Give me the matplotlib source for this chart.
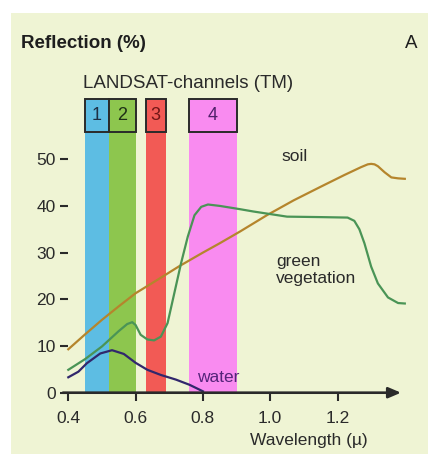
import matplotlib
matplotlib.use("Agg")
import matplotlib.pyplot as plt
from matplotlib.patches import Rectangle

plt.rcParams["font.family"] = ["Liberation Sans", "DejaVu Sans"]

# Landsat TM channels (µm)
channel_names = ["1", "2", "3", "4"]
channel_lo = [0.45, 0.52, 0.63, 0.76]
channel_hi = [0.52, 0.60, 0.69, 0.90]
channel_colors = ["#5DBDE3", "#8DC64E", "#F25A55", "#F98BF0"]
channel_text = ["#1E3044", "#1E3016", "#701616", "#50206A"]

# spectral reflectance curves
soil_x = [0.40, 0.45, 0.50, 0.55, 0.60, 0.67, 0.73, 0.80, 0.85, 0.91, 0.99, 1.07, 1.15, 1.22, 1.27, 1.29, 1.30, 1.31, 1.32, 1.34, 1.36, 1.38, 1.40]
soil_y = [9.3, 12.5, 15.6, 18.5, 21.3, 24.4, 27.1, 30.0, 32.0, 34.5, 38.0, 41.2, 44.1, 46.6, 48.3, 48.9, 49.0, 48.9, 48.5, 47.2, 46.1, 45.9, 45.8]

veg_x = [0.40, 0.45, 0.50, 0.55, 0.575, 0.59, 0.60, 0.615, 0.635, 0.655, 0.675, 0.695, 0.715, 0.735, 0.755, 0.775, 0.795, 0.815, 0.85, 0.91, 0.95, 1.05, 1.15, 1.23, 1.25, 1.265, 1.28, 1.30, 1.32, 1.35, 1.38, 1.40]
veg_y = [4.9, 7.2, 9.9, 13.2, 14.7, 15.1, 14.5, 12.4, 11.4, 11.2, 12.0, 14.9, 21.3, 27.7, 33.4, 38.0, 39.8, 40.3, 40.0, 39.3, 38.8, 37.7, 37.6, 37.5, 36.8, 35.0, 32.0, 27.0, 23.4, 20.4, 19.2, 19.1]

water_x = [0.40, 0.43, 0.455, 0.495, 0.53, 0.565, 0.60, 0.635, 0.675, 0.72, 0.76, 0.80]
water_y = [3.3, 4.5, 6.3, 8.4, 9.1, 8.3, 6.4, 4.9, 3.8, 2.8, 1.7, 0.3]

y_ticks = [0, 10, 20, 30, 40, 50]
x_ticks = [0.4, 0.6, 0.8, 1.0, 1.2]

W, H = 428, 454
fig = plt.figure(figsize=(W / 100, H / 100), dpi=100, facecolor="white")
fig.patches.append(Rectangle((11 / W, 0), 1 - 11 / W, (H - 13) / H,
                             transform=fig.transFigure, facecolor="#EFF4D4",
                             edgecolor="none", zorder=-10))

ax = fig.add_axes([68.3 / W, (H - 392.7) / H, 336.5 / W, 326.9 / H])
ax.set_facecolor("none")
ax.set_xlim(0.4, 1.4)
ax.set_ylim(0, 70)
for s in ax.spines.values():
    s.set_visible(False)

ink = "#2A2A2A"
fs = 12.5

# channel bands with numbered boxes on top
box_lo, box_hi = 55.8, 62.9
for name, lo, hi, c, tc in zip(channel_names, channel_lo, channel_hi, channel_colors, channel_text):
    ax.add_patch(Rectangle((lo, 0), hi - lo, box_lo, facecolor=c, edgecolor="none", zorder=1))
    ax.add_patch(Rectangle((lo, box_lo), hi - lo, box_hi - box_lo, facecolor=c,
                           edgecolor=ink, lw=1.4, zorder=2, clip_on=False))
    ax.text((lo + hi) / 2, (box_lo + box_hi) / 2, name, ha="center", va="center",
            fontsize=13, color=tc, zorder=3, clip_on=False)

ax.plot(soil_x, soil_y, color="#B5852C", lw=1.6, zorder=4, clip_on=False, solid_joinstyle="round")
ax.plot(veg_x, veg_y, color="#4A9456", lw=1.6, zorder=4, clip_on=False, solid_joinstyle="round")
ax.plot(water_x, water_y, color="#31276C", lw=1.6, zorder=4, clip_on=False, solid_joinstyle="round")

# axes drawn as arrows
ax.annotate("", xy=(1.397, 0), xytext=(0.376, 0), zorder=5,
            arrowprops=dict(arrowstyle="-|>,head_length=0.75,head_width=0.32", color=ink, lw=1.9))
ax.annotate("", xy=(0.4, 70.3), xytext=(0.4, -1.0), zorder=5,
            arrowprops=dict(arrowstyle="-|>,head_length=0.75,head_width=0.32", color=ink, lw=1.9))

ax.set_yticks(y_ticks)
ax.set_xticks(x_ticks)
ax.set_xticklabels([f"{v:.1f}" for v in x_ticks])
ax.tick_params(axis="both", colors=ink, width=1.5, length=6, labelsize=fs, labelcolor=ink)
ax.tick_params(axis="x", pad=7)
ax.tick_params(axis="y", pad=3)

ax.text(0.4446, 66.3, "LANDSAT-channels (TM)", ha="left", va="center", fontsize=13.5, color=ink, clip_on=False)
ax.text(1.035, 50.5, "soil", ha="left", va="center", fontsize=fs, color=ink)
ax.text(1.017, 26.2, "green\nvegetation", ha="left", va="center", fontsize=fs, color=ink, linespacing=1.15)
ax.text(0.782, 3.2, "water", ha="left", va="center", fontsize=fs, color="#55247A")
ax.text(0.94, -10.3, "Wavelength (µ)", ha="left", va="center", fontsize=fs, color=ink, clip_on=False)

fig.text(20.7 / W, 1 - 43 / H, "Reflection (%)", ha="left", va="center", fontsize=13.5, fontweight="bold", color="#1E1E1E")
fig.text(411 / W, 1 - 43 / H, "A", ha="center", va="center", fontsize=13.5, color="#1E1E1E")

fig.savefig("out.png", dpi=100, facecolor="white")
